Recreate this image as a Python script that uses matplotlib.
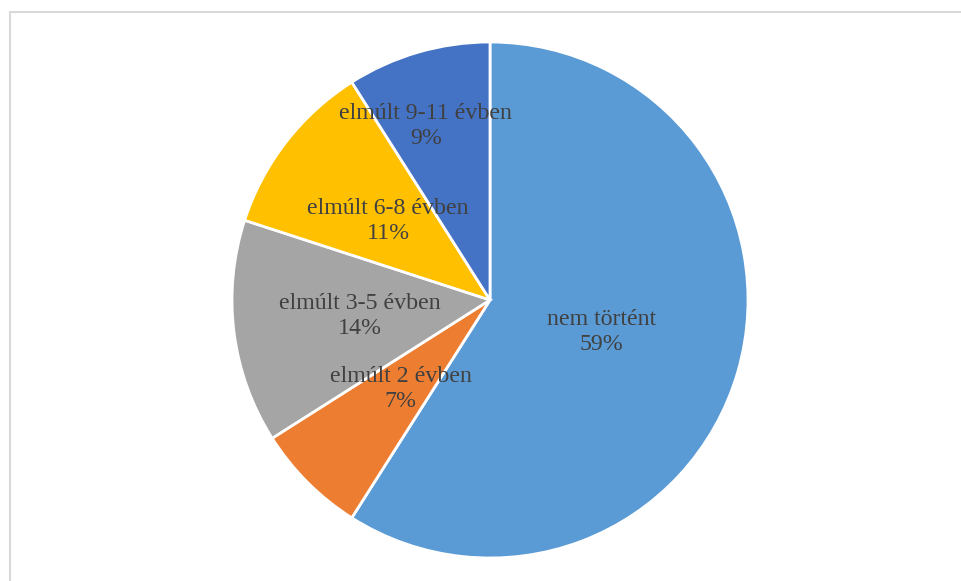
import matplotlib.pyplot as plt
import numpy as np
from matplotlib.patches import Rectangle

labels = ["nem történt", "elmúlt 2 évben", "elmúlt 3-5 évben", "elmúlt 6-8 évben", "elmúlt 9-11 évben"]
values = [59, 7, 14, 11, 9]
colors = ["#5B9BD5", "#ED7D31", "#A5A5A5", "#FFC000", "#4472C4"]
# label placement: fraction of radius and small angle nudge (deg)
label_r = [0.45, 0.49, 0.51, 0.50, 0.72]
label_nudge = [0, 0, 0, 0, 4]

plt.rcParams['font.family'] = ['Liberation Serif', 'DejaVu Serif']

fig = plt.figure(figsize=(9.61, 5.81), dpi=100)
# light chart-area frame
fig.patches.append(Rectangle((10 / 961, -0.1), 1.2, 1 - 12 / 581 + 0.1, transform=fig.transFigure,
                             fill=False, edgecolor="#D9D9D9", linewidth=1.5))

ax = fig.add_axes([232 / 961, 23 / 581, 516 / 961, 516 / 581])
wedges, _ = ax.pie(values, colors=colors, startangle=90, counterclock=False,
                   wedgeprops=dict(edgecolor="white", linewidth=2))
ax.set_xlim(-1, 1)
ax.set_ylim(-1, 1)
ax.set_aspect("equal")
ax.axis("off")

for w, lab, v, r, nd in zip(wedges, labels, values, label_r, label_nudge):
    ang = np.deg2rad((w.theta1 + w.theta2) / 2 + nd)
    ax.text(r * np.cos(ang), r * np.sin(ang), f"{lab}\n{v}%", ha="center", va="center",
            fontsize=17.2, color="#404040", linespacing=1.25)

fig.savefig("out.png", dpi=100)
